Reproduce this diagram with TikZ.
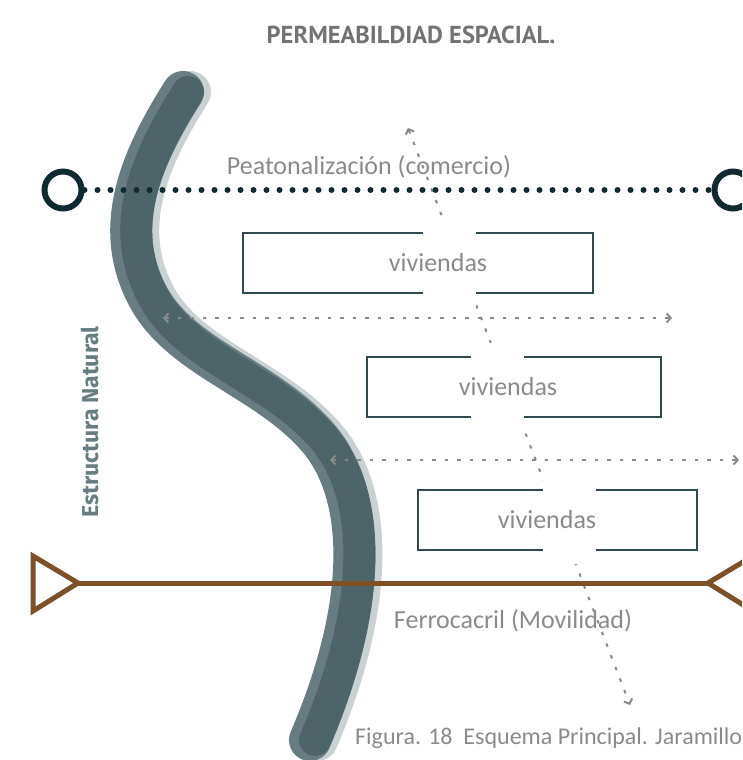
\documentclass[tikz,border=0pt]{standalone}
\usepackage{fontspec}
\setmainfont{Carlito}
\newfontfamily\titlefont{PT Sans}
\newfontfamily\heavyfont{Fira Sans}
\usetikzlibrary{arrows.meta}

\definecolor{river}{HTML}{4D6569}
\definecolor{riverlight}{HTML}{677D81}
\definecolor{rivershadow}{HTML}{C9D1D3}
\definecolor{walkway}{HTML}{0F2B31}
\definecolor{rail}{HTML}{7E5027}
\definecolor{labelgray}{HTML}{8A8A8A}
\definecolor{boxline}{HTML}{2F4A50}

\begin{document}
\begin{tikzpicture}[x=1pt, y=-1pt,
  label/.style={text=labelgray, font=\fontsize{26}{30}\selectfont, inner sep=0pt},
  flow/.style={draw=labelgray, line width=2pt, dash pattern=on 3.5pt off 9pt,
    {Straight Barb[length=4pt,width=9pt]}-{Straight Barb[length=4pt,width=9pt]}},
  stop/.style={circle, draw=walkway, line width=6pt, minimum size=37pt, inner sep=0pt},
  railway/.style={draw=rail, line width=5pt, line join=miter}]

\clip (0,0) rectangle (742,760);

% the natural structure (S shaped band)
\def\band{(183,92) .. controls (140,160) and (110,230) .. (150,300)
  .. controls (185,360) and (270,380) .. (320,440)
  .. controls (365,495) and (370,600) .. (310,740)}
\draw[rivershadow, line width=42pt, line cap=round, xshift=7pt] \band;
\draw[riverlight, line width=42pt, line cap=round] \band;
\draw[river, line width=32pt, line cap=round, xshift=5pt] \band;

% titles and labels
\node[text=black!55, font=\titlefont\bfseries\fontsize{24.5}{28}\selectfont] (title) at (411,35) {PERMEABILDIAD ESPACIAL.};
\node[text=riverlight, font=\heavyfont\bfseries\fontsize{23}{26}\selectfont, rotate=90] (natural) at (90,422) {Estructura Natural};
\node[label] (walk) at (369,167) {Peatonalización (comercio)};
\node[label] (train) at (513,621) {Ferrocacril (Movilidad)};
\node[label, anchor=west, font=\fontsize{24}{28}\selectfont] (caption) at (355,738) {Figura. 18\ \ Esquema Principal. Jaramillo};

% dotted flows
\coordinate (up) at (408,128);
\coordinate (down) at (630,705);
\draw[flow] (up) -- (down);
\coordinate (left1) at (163,318);
\coordinate (right1) at (672,318);
\coordinate (left2) at (330,460);
\coordinate (right2) at (739,460);
\draw[flow] (left1) -- (right1);
\draw[flow] (left2) -- (right2);

% pedestrian axis
\node[stop] (west) at (63,190) {};
\node[stop] (east) at (733,190) {};
\draw[walkway, line width=6pt, line cap=round, dash pattern=on 0pt off 13pt] (west) -- (east);

% railway axis
\coordinate (railW) at (78,583);
\coordinate (railE) at (708,583);
\draw[railway] (railW) -- (railE);
\draw[railway] (33,556) -- (railW) -- (33,611) -- cycle;
\draw[railway] (753,556) -- (railE) -- (753,611);

% housing blocks, broken where the flow passes
\foreach \l/\t/\r/\b/\gl/\gr/\tx/\n in {243/233/593/293/423/476/438/1,
    367/357/661/417/471/524/508/2, 418/490/697/550/543/596/547/3} {
  \fill[white] (\l,\t) rectangle (\r,\b);
  \fill[white] (\gl,\t-14) rectangle (\gr,\b+14);
  \draw[boxline, line width=1.5pt] (\gl,\t) -- (\l,\t) -- (\l,\b) -- (\gl,\b);
  \draw[boxline, line width=1.5pt] (\gr,\t) -- (\r,\t) -- (\r,\b) -- (\gr,\b);
  \node[label] (house\n) at (\tx,{(\t+\b)/2}) {viviendas};
}
\end{tikzpicture}
\end{document}
